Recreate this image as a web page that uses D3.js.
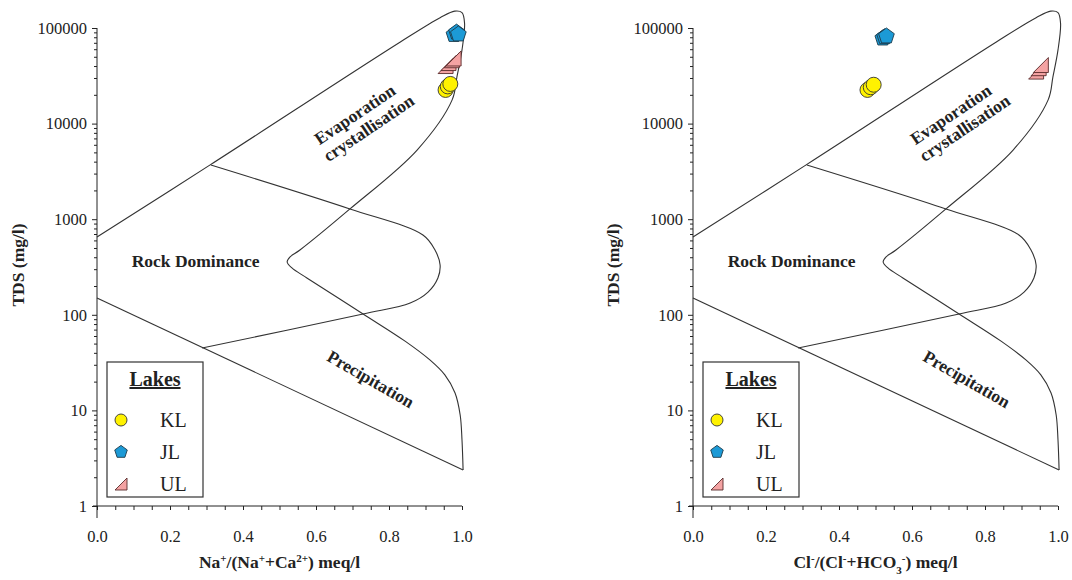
<!DOCTYPE html>
<html>
<head>
<meta charset="utf-8">
<script src="https://cdn.jsdelivr.net/npm/d3@7"></script>
<style>
  body { margin: 0; background: #fff; }
  text { font-family: "Liberation Serif", "Times New Roman", serif; fill: #222; }
</style>
</head>
<body>
<svg id="chart" width="1072" height="580"></svg>
<script>
// Gibbs diagram boundaries as [ratio, TDS]
const evapBoundary = [[0, 650], [0.31, 3700], [0.83, 71000], [0.94, 128000], [0.98, 150000],
  [1.0, 145000], [1.007, 112000], [1.0, 59000], [0.986, 30700], [0.973, 17700], [0.877, 5290],
  [0.693, 1280], [0.556, 476], [0.529, 403], [0.521, 357], [0.534, 309], [0.575, 243],
  [0.729, 102], [0.844, 53], [0.912, 33.7], [0.953, 23.5], [0.981, 15.2], [0.995, 8.95],
  [1.0, 4.9], [1.003, 2.38]];
const precipLine = [[1.003, 2.38], [0, 150]];
const rockBoundary = [[0.312, 3690], [0.693, 1280], [0.893, 684], [0.926, 476], [0.94, 332],
  [0.934, 243], [0.907, 173], [0.858, 133], [0.729, 102], [0.288, 45]];

const lakeNames = ["KL", "JL", "UL"];

// left panel: Na/(Na+Ca)
const naKL = [[0.955, 22500], [0.961, 24500], [0.968, 26000]];
const naJL = [[0.978, 85000], [0.985, 90000], [0.99, 86000]];
const naUL = [[0.955, 40000], [0.963, 43000], [0.972, 46000], [0.977, 48000]];
// right panel: Cl/(Cl+HCO3)
const clKL = [[0.478, 22500], [0.487, 24000], [0.495, 25500]];
const clJL = [[0.52, 78000], [0.525, 80500], [0.53, 82000]];
const clUL = [[0.94, 35000], [0.947, 38000], [0.953, 41000]];

const ratioTicks = [0, 0.2, 0.4, 0.6, 0.8, 1.0];
const tdsTicks = [1, 10, 100, 1000, 10000, 100000];

const svg = d3.select('#chart');

function pentagon(r) {
  const pts = d3.range(5).map(i => {
    const a = -Math.PI / 2 + i * 2 * Math.PI / 5;
    return [r * Math.cos(a), r * Math.sin(a)];
  });
  return "M" + pts.join("L") + "Z";
}
function rightTri(s) {
  return `M${-s / 2},${s / 2}L${s / 2},${s / 2}L${s / 2},${-s / 2}Z`;
}

const styles = {
  KL: { path: r => d3.symbol(d3.symbolCircle, Math.PI * r * r)(), fill: "#fff200", stroke: "#333" },
  JL: { path: r => pentagon(r * 1.1), fill: "#1c9ad6", stroke: "#1d3a4a" },
  UL: { path: r => rightTri(r * 2), fill: "#f4a3a3", stroke: "#5a2a2a" }
};

const panels = [
  { x0: 97, points: { KL: naKL, JL: naJL, UL: naUL }, yLabelX: 18, xLabel: "na" },
  { x0: 693, points: { KL: clKL, JL: clJL, UL: clUL }, yLabelX: 613, xLabel: "cl" }
];

panels.forEach(p => {
  const x = d3.scaleLinear().domain([0, 1]).range([p.x0, p.x0 + 365]);
  const y = d3.scaleLog().domain([1, 100000]).range([506, 28]);
  const g = svg.append('g');

  // axes
  const xMinor = g.append('g').attr('transform', `translate(0,${y(1)})`)
    .call(d3.axisBottom(x).tickValues(d3.range(0, 1.0001, 0.05)).tickSize(4).tickFormat(''));
  const xMajor = g.append('g').attr('transform', `translate(0,${y(1)})`)
    .call(d3.axisBottom(x).tickValues(ratioTicks).tickSize(4).tickPadding(20).tickFormat(d3.format(".1f")));
  const yMinor = g.append('g').attr('transform', `translate(${x(0)},0)`)
    .call(d3.axisLeft(y).tickValues(d3.range(0, 5).flatMap(e => d3.range(2, 10).map(k => k * Math.pow(10, e)))).tickSize(3).tickFormat(''));
  const yMajor = g.append('g').attr('transform', `translate(${x(0)},0)`)
    .call(d3.axisLeft(y).tickValues(tdsTicks).tickSize(5).tickPadding(5).tickFormat(d3.format("d")));
  [xMinor, xMajor, yMinor, yMajor].forEach(a => {
    a.select('.domain').remove();
    a.selectAll('line').attr('stroke', '#222');
    a.selectAll('text').attr('font-size', 16.5).attr('fill', '#222')
      .style('font-family', '"Liberation Serif", serif');
  });
  g.append('line').attr('x1', x(0) - 4).attr('x2', x(1)).attr('y1', y(1)).attr('y2', y(1))
    .attr('stroke', '#222');
  g.append('line').attr('x1', x(0)).attr('x2', x(0)).attr('y1', y(100000)).attr('y2', y(1) + 12)
    .attr('stroke', '#222');

  // axis titles
  g.append('text').attr('transform', `translate(${p.yLabelX},265) rotate(-90)`)
    .attr('text-anchor', 'middle').attr('dy', '0.35em')
    .attr('font-size', 17.5).attr('font-weight', 'bold').text('TDS (mg/l)');

  const xt = g.append('text').attr('x', x(0.5)).attr('y', 568)
    .attr('text-anchor', 'middle').attr('font-size', 17.5).attr('font-weight', 'bold');
  const sup = (t, s) => { t.append('tspan').attr('baseline-shift', 'super').attr('font-size', 11).text(s); };
  const sub = (t, s) => { t.append('tspan').attr('baseline-shift', 'sub').attr('font-size', 11).text(s); };
  if (p.xLabel === "na") {
    xt.append('tspan').text('Na'); sup(xt, '+');
    xt.append('tspan').text('/(Na'); sup(xt, '+');
    xt.append('tspan').text('+Ca'); sup(xt, '2+');
    xt.append('tspan').text(') meq/l');
  } else {
    xt.append('tspan').text('Cl'); sup(xt, '-');
    xt.append('tspan').text('/(Cl'); sup(xt, '-');
    xt.append('tspan').text('+HCO'); sub(xt, '3'); sup(xt, '-');
    xt.append('tspan').text(') meq/l');
  }

  // boundaries
  const smooth = d3.line().x(d => x(d[0])).y(d => y(d[1])).curve(d3.curveCatmullRom.alpha(0.5));
  const straight = d3.line().x(d => x(d[0])).y(d => y(d[1]));
  g.append('path').attr('d', smooth(evapBoundary)).attr('fill', 'none').attr('stroke', '#333').attr('stroke-width', 1.1);
  g.append('path').attr('d', straight(precipLine)).attr('fill', 'none').attr('stroke', '#333').attr('stroke-width', 1.1);
  g.append('path').attr('d', smooth(rockBoundary)).attr('fill', 'none').attr('stroke', '#333').attr('stroke-width', 1.1);

  // region labels
  const ev = g.append('g').attr('transform', `translate(${x(0.72)},${y(10400)}) rotate(-34)`);
  ev.append('text').attr('text-anchor', 'middle').attr('y', -3).attr('font-size', 17.5).attr('font-weight', 'bold').text('Evaporation');
  ev.append('text').attr('text-anchor', 'middle').attr('x', 4).attr('y', 16).attr('font-size', 17.5).attr('font-weight', 'bold').text('crystallisation');
  g.append('text').attr('x', x(0.27)).attr('y', y(365)).attr('dy', '0.35em').attr('text-anchor', 'middle')
    .attr('font-size', 17.5).attr('font-weight', 'bold').text('Rock Dominance');
  g.append('text').attr('transform', `translate(${x(0.75)},${y(21.3)}) rotate(30)`).attr('dy', '0.35em')
    .attr('text-anchor', 'middle').attr('font-size', 17.5).attr('font-weight', 'bold').text('Precipitation');

  // data points
  lakeNames.forEach(name => {
    const st = styles[name];
    g.selectAll(null).data(p.points[name]).enter().append('path')
      .attr('transform', d => `translate(${x(d[0])},${y(d[1])})`)
      .attr('d', st.path(7.5)).attr('fill', st.fill).attr('stroke', st.stroke).attr('stroke-width', 0.9);
  });

  // legend
  const lg = g.append('g').attr('transform', `translate(${p.x0 + 10},362)`);
  lg.append('rect').attr('width', 96).attr('height', 135).attr('fill', '#fff').attr('stroke', '#333').attr('stroke-width', 1.2);
  lg.append('text').attr('x', 48).attr('y', 24).attr('text-anchor', 'middle').attr('font-size', 20)
    .attr('font-weight', 'bold').attr('text-decoration', 'underline').text('Lakes');
  lakeNames.forEach((name, i) => {
    const st = styles[name];
    const ly = 58 + i * 32;
    lg.append('path').attr('transform', `translate(14,${ly})`).attr('d', st.path(6))
      .attr('fill', st.fill).attr('stroke', st.stroke).attr('stroke-width', 0.9);
    lg.append('text').attr('x', 53).attr('y', ly).attr('dy', '0.35em').attr('font-size', 20).text(name);
  });
});
</script>
</body>
</html>
